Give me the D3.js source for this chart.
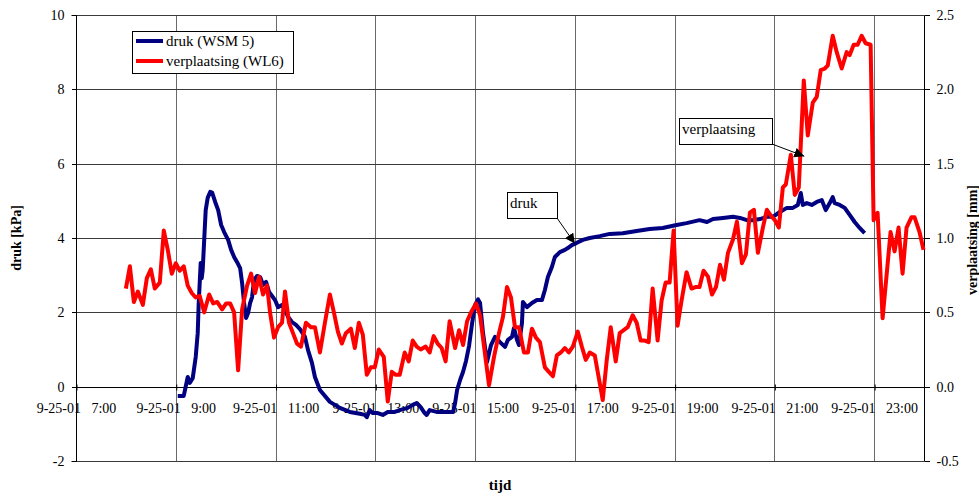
<!DOCTYPE html>
<html>
<head>
<meta charset="utf-8">
<script src="https://cdn.jsdelivr.net/npm/d3@7"></script>
<style>
  body { margin: 0; background: #fff; }
  svg text { font-family: "Liberation Serif", "Times New Roman", Tinos, "DejaVu Serif", serif; fill: #000; }
</style>
</head>
<body>
<div id="chart"></div>
<script>
// tijd in uren (decimaal) op 25-09-2001
const drukTijd = [9.04, 9.16, 9.24, 9.28, 9.34, 9.40, 9.44, 9.46, 9.48, 9.50, 9.52, 9.54, 9.58, 9.60, 9.64, 9.69, 9.73, 9.79, 9.85, 9.91,
  9.97, 10.05, 10.11, 10.17, 10.23, 10.29, 10.33, 10.37, 10.41, 10.45, 10.49, 10.53, 10.57, 10.63, 10.69, 10.75, 10.81, 10.87, 10.93, 10.99,
  11.05, 11.13, 11.19, 11.25, 11.33, 11.41, 11.49, 11.59, 11.65, 11.73, 11.79, 11.89, 12.09, 12.29, 12.49, 12.69, 12.79, 12.83, 12.89, 12.95,
  13.05, 13.15, 13.25, 13.39, 13.49, 13.65, 13.75, 13.83, 13.91, 13.99, 14.03, 14.09, 14.23, 14.43, 14.56, 14.60, 14.64, 14.70, 14.76, 14.82,
  14.88, 14.94, 15.00, 15.06, 15.10, 15.16, 15.24, 15.32, 15.40, 15.50, 15.60, 15.66, 15.74, 15.78, 15.84, 15.88, 15.94, 15.96, 16.04, 16.14,
  16.24, 16.34, 16.40, 16.46, 16.54, 16.60, 16.70, 16.80, 16.86, 16.94, 17.04, 17.16, 17.30, 17.50, 17.70, 17.96, 18.24, 18.50, 18.76, 19.04,
  19.24, 19.50, 19.65, 19.77, 19.97, 20.17, 20.31, 20.45, 20.57, 20.71, 20.85, 20.97, 21.11, 21.25, 21.37, 21.47, 21.53, 21.57, 21.65, 21.75,
  21.85, 21.95, 22.03, 22.11, 22.17, 22.21, 22.31, 22.41, 22.51, 22.61, 22.71, 22.81];
const drukWaarde = [-0.25, -0.25, 0.26, 0.10, 0.23, 0.80, 1.44, 2.25, 2.79, 3.33, 2.92, 3.14, 4.22, 4.75, 5.08, 5.24, 5.22, 4.97, 4.75, 4.35,
  4.16, 3.95, 3.68, 3.49, 3.35, 3.19, 2.79, 2.25, 1.85, 1.98, 2.25, 2.41, 2.87, 2.98, 2.95, 2.74, 2.82, 2.55, 2.44, 2.33,
  2.14, 2.20, 2.06, 1.88, 1.74, 1.66, 1.55, 1.34, 0.99, 0.64, 0.26, -0.09, -0.41, -0.57, -0.68, -0.73, -0.76, -0.82, -0.63, -0.71,
  -0.71, -0.76, -0.68, -0.68, -0.63, -0.57, -0.49, -0.44, -0.55, -0.71, -0.76, -0.63, -0.68, -0.68, -0.68, -0.44, -0.09, 0.18, 0.40, 0.70,
  1.10, 1.70, 2.20, 2.35, 2.25, 1.44, 0.66, 1.12, 1.34, 1.20, 1.07, 1.26, 1.34, 1.58, 1.26, 1.12, 1.71, 2.28, 2.14, 2.25,
  2.33, 2.33, 2.60, 2.95, 3.22, 3.49, 3.62, 3.68, 3.73, 3.81, 3.87, 3.95, 4.00, 4.05, 4.11, 4.13, 4.19, 4.24, 4.27, 4.35,
  4.40, 4.48, 4.43, 4.51, 4.54, 4.57, 4.54, 4.48, 4.48, 4.51, 4.57, 4.57, 4.70, 4.81, 4.81, 4.89, 5.21, 4.89, 4.94, 4.89,
  4.97, 5.02, 4.75, 4.94, 5.10, 4.94, 4.89, 4.81, 4.62, 4.43, 4.27, 4.13];

const verplTijd = [8.00, 8.08, 8.16, 8.24, 8.34, 8.42, 8.50, 8.58, 8.68, 8.76, 8.84, 8.92, 9.00, 9.08, 9.16, 9.24, 9.32, 9.40, 9.48, 9.57,
  9.67, 9.75, 9.83, 9.93, 10.01, 10.09, 10.17, 10.25, 10.33, 10.43, 10.51, 10.59, 10.67, 10.75, 10.83, 10.89, 10.97, 11.05, 11.13, 11.19,
  11.27, 11.35, 11.43, 11.51, 11.61, 11.71, 11.79, 11.89, 11.99, 12.09, 12.17, 12.25, 12.33, 12.41, 12.51, 12.59, 12.67, 12.75, 12.83, 12.91,
  12.99, 13.07, 13.17, 13.25, 13.33, 13.41, 13.49, 13.59, 13.67, 13.75, 13.83, 13.91, 14.01, 14.09, 14.17, 14.25, 14.33, 14.41, 14.49, 14.60,
  14.68, 14.76, 14.84, 14.92, 15.02, 15.10, 15.18, 15.28, 15.38, 15.48, 15.56, 15.64, 15.72, 15.80, 15.88, 15.98, 16.06, 16.14, 16.22, 16.30,
  16.40, 16.48, 16.56, 16.64, 16.72, 16.80, 16.88, 16.96, 17.06, 17.14, 17.22, 17.30, 17.40, 17.48, 17.56, 17.64, 17.72, 17.82, 17.90, 17.98,
  18.06, 18.16, 18.24, 18.32, 18.40, 18.48, 18.56, 18.66, 18.74, 18.82, 18.90, 18.98, 19.06, 19.14, 19.24, 19.34, 19.42, 19.50, 19.58, 19.67,
  19.75, 19.83, 19.91, 19.99, 20.07, 20.17, 20.25, 20.35, 20.43, 20.51, 20.59, 20.67, 20.77, 20.85, 20.93, 21.01, 21.09, 21.17, 21.23, 21.33,
  21.41, 21.49, 21.59, 21.67, 21.77, 21.85, 21.93, 22.01, 22.07, 22.17, 22.25, 22.35, 22.45, 22.51, 22.59, 22.67, 22.75, 22.83, 22.93, 22.99,
  23.07, 23.17, 23.33, 23.41, 23.49, 23.57, 23.65, 23.75, 23.81, 23.91, 23.99];
const verplWaarde = [0.66, 0.81, 0.57, 0.64, 0.55, 0.73, 0.79, 0.66, 0.70, 1.05, 0.92, 0.76, 0.83, 0.78, 0.81, 0.68, 0.63, 0.60, 0.61, 0.50,
  0.62, 0.56, 0.57, 0.52, 0.56, 0.56, 0.50, 0.11, 0.52, 0.68, 0.76, 0.63, 0.74, 0.62, 0.68, 0.50, 0.33, 0.40, 0.43, 0.64,
  0.43, 0.36, 0.29, 0.27, 0.43, 0.40, 0.40, 0.23, 0.43, 0.62, 0.50, 0.37, 0.29, 0.36, 0.39, 0.26, 0.43, 0.35, 0.08, 0.13,
  0.13, 0.25, 0.20, -0.10, 0.10, 0.08, 0.08, 0.23, 0.17, 0.31, 0.27, 0.25, 0.27, 0.23, 0.34, 0.29, 0.26, 0.17, 0.44, 0.26,
  0.38, 0.28, 0.44, 0.50, 0.56, 0.48, 0.27, 0.01, 0.20, 0.36, 0.47, 0.67, 0.60, 0.40, 0.40, 0.23, 0.23, 0.39, 0.33, 0.30,
  0.13, 0.10, 0.07, 0.21, 0.23, 0.26, 0.23, 0.27, 0.37, 0.27, 0.18, 0.23, 0.21, 0.06, -0.09, 0.18, 0.40, 0.17, 0.36, 0.38,
  0.40, 0.48, 0.43, 0.31, 0.31, 0.30, 0.66, 0.31, 0.58, 0.70, 0.70, 1.05, 0.41, 0.58, 0.77, 0.66, 0.67, 0.67, 0.78, 0.74,
  0.62, 0.67, 0.82, 0.72, 0.90, 0.99, 1.11, 0.83, 0.89, 1.17, 1.19, 0.90, 1.07, 1.19, 1.15, 1.12, 1.07, 1.34, 1.36, 1.56,
  1.29, 1.34, 2.06, 1.69, 1.91, 1.95, 2.13, 2.14, 2.16, 2.36, 2.25, 2.14, 2.25, 2.23, 2.30, 2.30, 2.36, 2.31, 2.30, 1.12,
  1.17, 0.46, 1.04, 0.91, 1.07, 0.76, 1.07, 1.14, 1.14, 1.04, 0.92];

const tijdTicks = [7, 9, 11, 13, 15, 17, 19, 21, 23];
const datumLabel = "9-25-01";
const drukTicks = [-2, 0, 2, 4, 6, 8, 10];
const verplTicks = [-0.5, 0, 0.5, 1.0, 1.5, 2.0, 2.5];

// Set Dimensions
const width = 979;
const height = 496;
const plotLeft = 76, plotRight = 924, plotTop = 15, plotBottom = 461;
const serif = '"Liberation Serif", "Times New Roman", Tinos, "DejaVu Serif", serif';

const svg = d3.select("#chart")
  .append("svg")
  .attr("width", width)
  .attr("height", height);

const x = d3.scaleLinear().domain([7, 24]).range([plotLeft, plotRight]);
const yL = d3.scaleLinear().domain([-2, 10]).range([plotBottom, plotTop]);
const yR = d3.scaleLinear().domain([-0.5, 2.5]).range([plotBottom, plotTop]);

// gridlines
svg.append("g")
  .selectAll("line")
  .data(tijdTicks.slice(1)).enter()
  .append("line")
  .attr("x1", d => Math.round(x(d)) + 0.5)
  .attr("x2", d => Math.round(x(d)) + 0.5)
  .attr("y1", plotTop)
  .attr("y2", plotBottom)
  .attr("stroke", "#6a6a6a")
  .attr("stroke-width", 1);

svg.append("g")
  .selectAll("line")
  .data(drukTicks.filter(d => d !== 0)).enter()
  .append("line")
  .attr("x1", plotLeft)
  .attr("x2", plotRight)
  .attr("y1", d => Math.round(yL(d)) + 0.5)
  .attr("y2", d => Math.round(yL(d)) + 0.5)
  .attr("stroke", "#3a3a3a")
  .attr("stroke-width", 1);

// left axis
const axL = svg.append("g")
  .attr("transform", "translate(" + (plotLeft + 0.5) + ",0)")
  .call(d3.axisLeft(yL).tickValues(drukTicks).tickSize(5).tickPadding(7).tickFormat(d => String(d)));
axL.select(".domain").attr("d", "M-5," + (Math.round(yL(10)) + 0.5) + "H0V" + (Math.round(yL(-2)) + 0.5) + "H-5");

// right axis
const axR = svg.append("g")
  .attr("transform", "translate(" + (plotRight + 0.5) + ",0)")
  .call(d3.axisRight(yR).tickValues(verplTicks).tickSize(5).tickPadding(7).tickFormat(d => d.toFixed(1)));
axR.select(".domain").attr("d", "M5," + (Math.round(yR(2.5)) + 0.5) + "H0V" + (Math.round(yR(-0.5)) + 0.5) + "H5");

svg.selectAll(".tick line").attr("stroke", "#000").attr("shape-rendering", "crispEdges");

// x axis on the zero line
const y0 = Math.round(yL(0)) + 0.5;
const axX = svg.append("g")
  .attr("transform", "translate(0," + y0 + ")")
  .call(d3.axisBottom(x).tickValues(tijdTicks).tickSize(0).tickPadding(16)
    .tickFormat(d => datumLabel + "   " + d + ":00"));
axX.select(".domain").attr("d", "M" + plotLeft + ",0H" + plotRight).attr("stroke", "#000");
axX.selectAll(".tick text").style("white-space", "pre");
axX.selectAll(".tick")
  .append("line")
  .attr("x1", 0.5).attr("x2", 0.5)
  .attr("y1", -3).attr("y2", 3)
  .attr("stroke", "#000");

svg.selectAll("g").attr("font-family", serif).attr("font-size", 14);

// lines
const drukLine = d3.line()
  .x(d => x(d[0]))
  .y(d => yL(d[1]));

const verplLine = d3.line()
  .x(d => x(d[0]))
  .y(d => yR(d[1]));

svg.append("path")
  .datum(d3.zip(drukTijd, drukWaarde))
  .attr("d", drukLine)
  .attr("fill", "none")
  .attr("stroke", "#000080")
  .attr("stroke-width", 4)
  .attr("stroke-linejoin", "round");

svg.append("path")
  .datum(d3.zip(verplTijd, verplWaarde))
  .attr("d", verplLine)
  .attr("fill", "none")
  .attr("stroke", "#ff0000")
  .attr("stroke-width", 4)
  .attr("stroke-linejoin", "round");

// axis titles
svg.append("text")
  .attr("transform", "translate(21,238) rotate(-90)")
  .attr("text-anchor", "middle")
  .attr("font-size", 14)
  .attr("font-weight", "bold")
  .text("druk [kPa]");

svg.append("text")
  .attr("transform", "translate(977,240) rotate(-90)")
  .attr("text-anchor", "middle")
  .attr("font-size", 14)
  .attr("font-weight", "bold")
  .text("verplaatsing [mm]");

svg.append("text")
  .attr("x", 500)
  .attr("y", 490)
  .attr("text-anchor", "middle")
  .attr("font-size", 15)
  .attr("font-weight", "bold")
  .text("tijd");

// legend
const legend = svg.append("g").attr("transform", "translate(132,31)");
legend.append("rect")
  .attr("x", 0.5).attr("y", 0.5)
  .attr("width", 161).attr("height", 42)
  .attr("fill", "#fff").attr("stroke", "#000");
const legendItems = [["druk (WSM 5)", "#000080"], ["verplaatsing (WL6)", "#ff0000"]];
legendItems.forEach((item, i) => {
  legend.append("line")
    .attr("x1", 4).attr("x2", 31)
    .attr("y1", 10 + i * 20).attr("y2", 10 + i * 20)
    .attr("stroke", item[1]).attr("stroke-width", 4);
  legend.append("text")
    .attr("x", 34).attr("y", 15 + i * 20)
    .attr("font-size", 15)
    .text(item[0]);
});

// callouts
svg.append("defs").append("marker")
  .attr("id", "pijl")
  .attr("markerUnits", "userSpaceOnUse")
  .attr("markerWidth", 12).attr("markerHeight", 12)
  .attr("refX", 10).attr("refY", 5)
  .attr("orient", "auto")
  .append("path")
  .attr("d", "M0,0L10,5L0,10Z")
  .attr("fill", "#000");

const callouts = [
  { label: "druk", box: [507, 192, 50, 26], tip: [x(17.0), yL(3.85)] },
  { label: "verplaatsing", box: [679, 118, 93, 26], tip: [x(21.6), yR(1.55)] }
];
callouts.forEach(c => {
  const [bx, by, bw, bh] = c.box;
  svg.append("line")
    .attr("x1", bx + bw).attr("y1", by + bh)
    .attr("x2", c.tip[0]).attr("y2", c.tip[1])
    .attr("stroke", "#000").attr("stroke-width", 1)
    .attr("marker-end", "url(#pijl)");
  svg.append("rect")
    .attr("x", bx + 0.5).attr("y", by + 0.5)
    .attr("width", bw).attr("height", bh)
    .attr("fill", "#fff").attr("stroke", "#000");
  svg.append("text")
    .attr("x", bx + 3).attr("y", by + 16)
    .attr("font-size", 15)
    .text(c.label);
});
</script>
</body>
</html>
